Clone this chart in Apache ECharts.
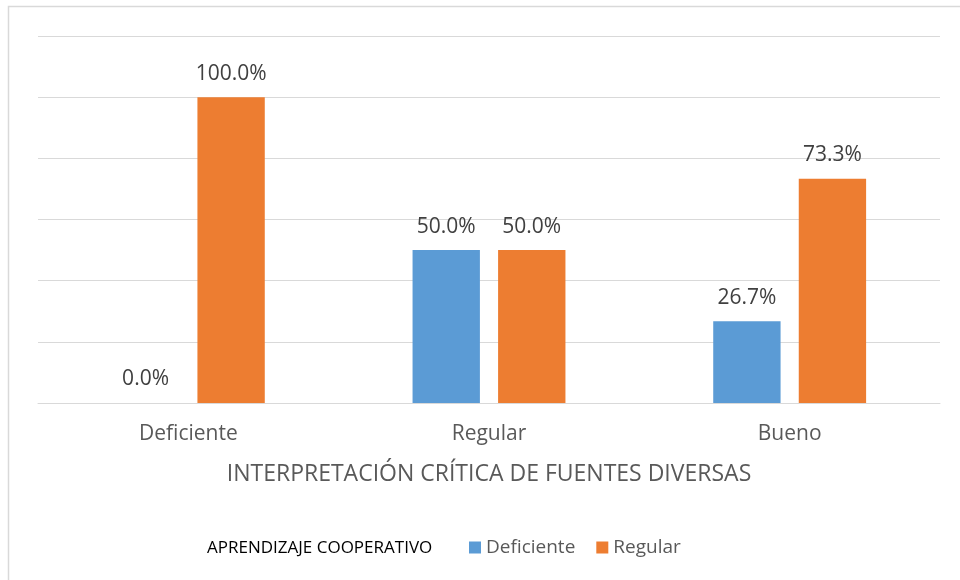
<!DOCTYPE html>
<html>
<head>
<meta charset="utf-8">
<script src="https://cdn.jsdelivr.net/npm/echarts@6/dist/echarts.min.js"></script>
<style>
  html, body { margin: 0; padding: 0; background: #fff; }
  #chart { width: 960px; height: 580px; }
</style>
</head>
<body>
<div id="chart"></div>
<script>
// data
const categories = ['Deficiente', 'Regular', 'Bueno']
const seriesNames = ['Deficiente', 'Regular']
const deficienteValues = [0.0, 50.0, 26.7]
const regularValues = [100.0, 50.0, 73.3]
const legendTitle = 'APRENDIZAJE COOPERATIVO'
const axisTitle = 'INTERPRETACIÓN CRÍTICA DE FUENTES DIVERSAS'

const colors = ['#5B9BD5', '#ED7D31']
const font = '"Open Sans", "Noto Sans", sans-serif'

let myChart = echarts.init(document.getElementById('chart'))

const barLabel = {
  show: true,
  position: 'top',
  distance: 13,
  fontFamily: font,
  fontSize: 21,
  color: '#404040',
  formatter: function (p) {
    return p.value.toFixed(1) + '%'
  },
}

const option = {
  animation: false,
  textStyle: { fontFamily: font },
  graphic: [
    {
      type: 'rect',
      shape: { x: 8.5, y: 6.5, width: 1000, height: 1000 },
      style: { fill: 'none', stroke: '#d9d9d9', lineWidth: 1.5 },
      silent: true,
    },
  ],
  title: {
    text: legendTitle,
    left: 202,
    top: 535,
    textStyle: {
      fontFamily: font,
      fontSize: 17,
      fontWeight: 'normal',
      color: '#000000',
    },
  },
  legend: {
    data: seriesNames,
    left: 464,
    top: 533,
    icon: 'rect',
    itemWidth: 12,
    itemHeight: 12,
    itemGap: 21,
    textStyle: {
      fontFamily: font,
      fontSize: 19,
      color: '#595959',
    },
  },
  grid: {
    left: 38,
    right: 20,
    top: 36,
    bottom: 177,
    containLabel: false,
  },
  xAxis: {
    type: 'category',
    data: categories,
    name: axisTitle,
    nameLocation: 'middle',
    nameGap: 60,
    nameTextStyle: {
      fontFamily: font,
      fontSize: 23,
      color: '#595959',
    },
    axisTick: { show: false },
    axisLine: { lineStyle: { color: '#d9d9d9', width: 1 } },
    axisLabel: {
      margin: 21,
      fontFamily: font,
      fontSize: 21,
      color: '#595959',
    },
  },
  yAxis: {
    type: 'value',
    min: 0,
    max: 120,
    interval: 20,
    axisLabel: { show: false },
    axisLine: { show: false },
    axisTick: { show: false },
    splitLine: { lineStyle: { color: '#d9d9d9', width: 1 } },
  },
  series: [
    {
      name: seriesNames[0],
      type: 'bar',
      data: deficienteValues,
      barWidth: '22.4%',
      barGap: '27%',
      itemStyle: { color: colors[0] },
      label: barLabel,
    },
    {
      name: seriesNames[1],
      type: 'bar',
      data: regularValues,
      barWidth: '22.4%',
      itemStyle: { color: colors[1] },
      label: barLabel,
    },
  ],
}

myChart.setOption(option)
</script>
</body>
</html>
